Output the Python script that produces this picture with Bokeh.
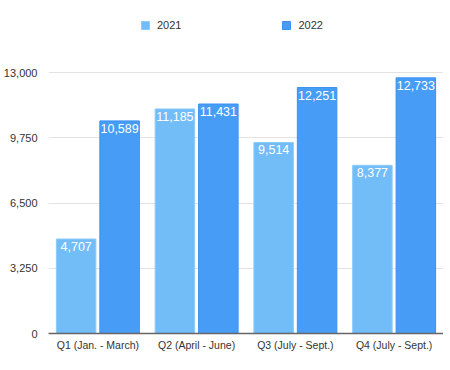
from bokeh.plotting import figure
from bokeh.models import (ColumnDataSource, Range1d, FixedTicker, NumeralTickFormatter,
                          Legend, LegendItem)
from bokeh.transform import dodge
from bokeh.core.properties import value
from bokeh.embed import file_html
from bokeh.resources import INLINE

quarters = ["Q1 (Jan. - March)", "Q2 (April - June)", "Q3 (July - Sept.)", "Q4 (July - Sept.)"]
sales_2021 = [4707, 11185, 9514, 8377]
sales_2022 = [10589, 11431, 12251, 12733]
y_ticks = [0, 3250, 6500, 9750, 13000]

src = ColumnDataSource(dict(
    q=quarters,
    y1=sales_2021,
    y2=sales_2022,
    t1=[f"{v:,}" for v in sales_2021],
    t2=[f"{v:,}" for v in sales_2022],
))

FONT = "Liberation Sans"
C1 = "#72BDF8"
C2 = "#479DF6"

W, H = 443, 354
LEFT = 48
BOTTOM = 21
frame_h = H - BOTTOM
top_px = 72                     # screen row of the 13,000 gridline
y_end = y_ticks[-1] * frame_h / (frame_h - top_px)

p = figure(x_range=quarters, y_range=Range1d(0, y_end), width=W, height=H,
           output_backend="svg", toolbar_location=None,
           min_border_left=LEFT, min_border_right=0, min_border_top=0, min_border_bottom=BOTTOM)
p.x_range.range_padding = 0
p.outline_line_color = None

r1 = p.vbar(x=dodge("q", -0.22, range=p.x_range), top="y1", width=0.4, source=src,
            fill_color=C1, line_color="#8ccbfa", line_width=1)
r2 = p.vbar(x=dodge("q", 0.22, range=p.x_range), top="y2", width=0.4, source=src,
            fill_color=C2, line_color="#3a90f0", line_width=1)

for xo, col in ((-0.22, "1"), (0.22, "2")):
    p.text(x=dodge("q", xo, range=p.x_range), y="y" + col, text="t" + col, source=src,
           text_align="center", text_baseline="top", y_offset=3,
           text_color="white", text_font=value(FONT), text_font_size="12.5px")

p.yaxis.ticker = FixedTicker(ticks=y_ticks)
p.yaxis.formatter = NumeralTickFormatter(format="0,0")
p.yaxis.axis_line_color = None
p.yaxis.major_tick_line_color = None
p.yaxis.minor_tick_line_color = None
p.yaxis.major_tick_out = 0
p.yaxis.major_label_standoff = 11
p.yaxis.major_label_text_font = FONT
p.yaxis.major_label_text_font_size = "11px"
p.yaxis.major_label_text_color = "#333333"

p.xaxis.axis_line_color = "#666666"
p.xaxis.axis_line_width = 1.5
p.xaxis.major_tick_line_color = None
p.xaxis.minor_tick_line_color = None
p.xaxis.major_tick_out = 0
p.xaxis.major_label_standoff = 5
p.xaxis.major_label_text_font = FONT
p.xaxis.major_label_text_font_size = "10.5px"
p.xaxis.major_label_text_color = "#333333"

p.xgrid.grid_line_color = None
p.ygrid.grid_line_color = "#e3e3e3"
p.ygrid.grid_line_width = 1

legend = Legend(items=[LegendItem(label="2021", renderers=[r1]),
                       LegendItem(label="2022", renderers=[r2])],
                orientation="horizontal", location=(92, frame_h - 31),
                glyph_width=10, glyph_height=10, label_height=12,
                label_standoff=7, spacing=100, padding=0, margin=0,
                border_line_color=None, background_fill_alpha=0,
                label_text_font=FONT, label_text_font_size="11px",
                label_text_color="#333333")
p.add_layout(legend, "center")

open("out.html", "w").write(file_html(p, INLINE))
